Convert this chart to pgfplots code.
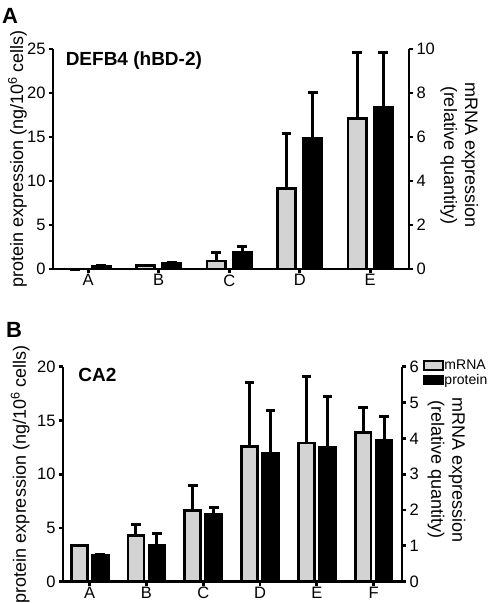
\documentclass[border=0pt]{standalone}
\usepackage{fontspec}
\setmainfont{Liberation Sans}
\usepackage{pgfplots}
\pgfplotsset{compat=1.18}
\definecolor{lgray}{RGB}{211,211,211}
\newcommand{\tickfont}{\fontsize{16.5bp}{18bp}\selectfont}
\newcommand{\labfont}{\fontsize{18bp}{21bp}\selectfont}
\newcommand{\legfont}{\fontsize{14bp}{14bp}\selectfont}
\pgfplotsset{
  common/.style={
    scale only axis, clip=false,
    /pgf/number format/assume math mode=true,
    tick label style={font=\tickfont, black},
    xticklabel style={yshift=2bp},
    tick align=outside, major tick length=4bp,
    tick style={line width=2.8bp, black},
    axis line style={line width=2.8bp, -},
    ybar, ymin=0,
  },
  barstyle/.style={draw=black, line width=2.8bp,
    /pgfplots/error bars/y dir=plus,
    /pgfplots/error bars/y explicit,
    /pgfplots/error bars/error mark=-,
    /pgfplots/error bars/error bar style={line width=3bp, black},
    /pgfplots/error bars/error mark options={rotate=90, line width=3bp, mark size=4.8bp, black}},
}
\begin{document}
\begin{tikzpicture}
\useasboundingbox (0,0) rectangle (498bp,-603bp);
% ---------- Panel A ----------
\node[anchor=north west, inner sep=0pt, font=\fontsize{22bp}{22bp}\selectfont\bfseries] at (2bp,-8bp) {A};
\begin{axis}[common, at={(53bp,-269bp)}, anchor=south west, width=356bp, height=220bp,
  xmin=-0.5, xmax=4.55, ymax=25, xtick={0,1,2,3,4}, xticklabels={A,B,C,D,E},
  ytick={0,5,10,15,20,25}, axis x line*=bottom, axis y line*=left, bar width=0.26,
  ylabel={protein expression (ng/10\textsuperscript{6} cells)},
  ylabel style={font=\labfont, at={(axis description cs:-0.1,0.5)}, anchor=center}]
\addplot[fill=black, bar shift=0.185, barstyle] coordinates {
  (0,0.25) +- (0,0.1)
  (1,0.6) +- (0,0.15)
  (2,1.9) +- (0,0.67)
  (3,14.8) +- (0,5.27)
  (4,18.35) +- (0,6.22)
};
\node[anchor=base west, font=\fontsize{19bp}{21bp}\selectfont\bfseries] at (axis description cs:0.026,0.923) {DEFB4 (hBD-2)};
\end{axis}
\begin{axis}[common, at={(53bp,-269bp)}, anchor=south west, width=356bp, height=220bp,
  xmin=-0.5, xmax=4.55, ymax=10, xtick=\empty,
  ytick={0,2,4,6,8,10}, axis x line=none, axis y line*=right, bar width=0.26,
  ylabel={mRNA expression\\(relative quantity)},
  ylabel style={font=\labfont, align=center, rotate=180, at={(axis description cs:1.141,0.518)}, anchor=center}]
\addplot[fill=lgray, bar shift=-0.185, barstyle] coordinates {
  (0,0) +- (0,0)
  (1,0.15) +- (0,0.03)
  (2,0.36) +- (0,0.37)
  (3,3.66) +- (0,2.49)
  (4,6.84) +- (0,3.02)
};
\end{axis}
% ---------- Panel B ----------
\node[anchor=north west, inner sep=0pt, font=\fontsize{22bp}{22bp}\selectfont\bfseries] at (6bp,-322bp) {B};
\begin{axis}[common, at={(63bp,-581.7bp)}, anchor=south west, width=339bp, height=215bp,
  xmin=-0.47, xmax=5.5, ymax=20, xtick={0,1,2,3,4,5}, xticklabels={A,B,C,D,E,F},
  ytick={0,5,10,15,20}, axis x line*=bottom, axis y line*=left, bar width=0.28,
  ylabel={protein expression (ng/10\textsuperscript{6} cells)},
  ylabel style={font=\labfont, at={(axis description cs:-0.126,0.5)}, anchor=center}]
\addplot[fill=black, bar shift=0.185, barstyle] coordinates {
  (0,2.45) +- (0,0.12)
  (1,3.4) +- (0,1.06)
  (2,6.22) +- (0,0.64)
  (3,11.9) +- (0,4.03)
  (4,12.52) +- (0,4.74)
  (5,13.14) +- (0,2.2)
};
\node[anchor=base west, font=\fontsize{19bp}{21bp}\selectfont\bfseries] at (axis description cs:0.035,0.93) {CA2};
\end{axis}
\begin{axis}[common, at={(63bp,-581.7bp)}, anchor=south west, width=339bp, height=215bp,
  xmin=-0.47, xmax=5.5, ymax=6, xtick=\empty,
  ytick={0,1,2,3,4,5,6}, axis x line=none, axis y line*=right, bar width=0.28,
  ylabel={mRNA expression\\(relative quantity)},
  ylabel style={font=\labfont, align=center, rotate=180, at={(axis description cs:1.131,0.52)}, anchor=center},
  legend style={at={(axis description cs:1.061,1.035)}, anchor=north west, draw=none, fill=none,
    inner sep=0pt, row sep=2bp, nodes={inner sep=0.6bp}},
  legend cell align=left,
  legend image code/.code={\draw[#1, line width=2bp] (0bp,-4.2bp) rectangle (19bp,4.2bp);}]
\addlegendimage{fill=lgray, draw=black}
\addlegendentry{\legfont mRNA}
\addlegendimage{fill=black, draw=black}
\addlegendentry{\legfont protein}
\addplot[fill=lgray, bar shift=-0.185, barstyle, forget plot] coordinates {
  (0,1.0) +- (0,0)
  (1,1.29) +- (0,0.32)
  (2,1.99) +- (0,0.69)
  (3,3.77) +- (0,1.78)
  (4,3.87) +- (0,1.87)
  (5,4.16) +- (0,0.70)
};
\end{axis}
\end{tikzpicture}
\end{document}
